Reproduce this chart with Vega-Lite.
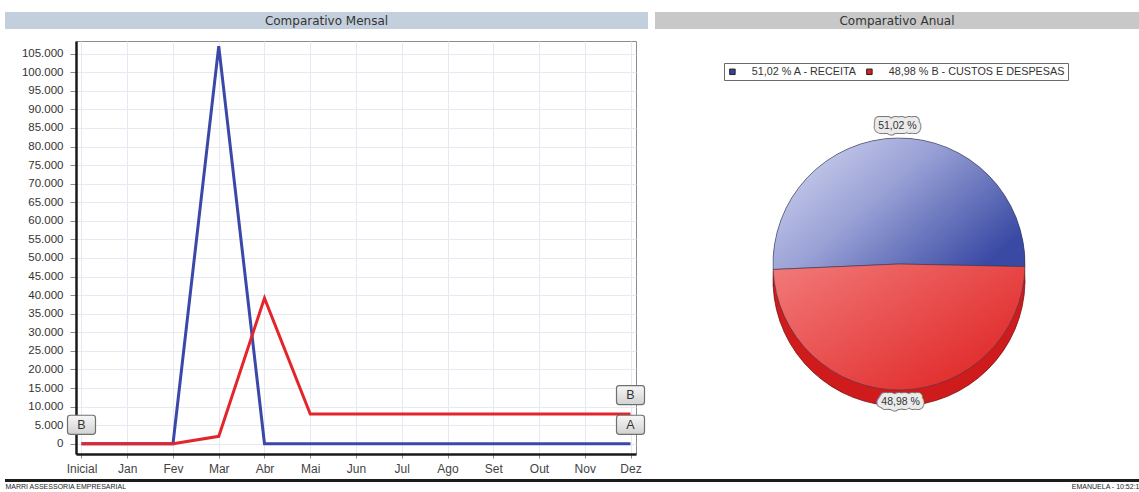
{
  "$schema": "https://vega.github.io/schema/vega-lite/v6.json",
  "padding": {"left": 5, "top": 12, "right": 0, "bottom": 0},
  "background": "#ffffff",
  "config": {
    "locale": {"number": {"decimal": ",", "thousands": ".", "grouping": [3], "currency": ["R$", ""]}},
    "font": "Liberation Sans",
    "view": {"stroke": null}
  },
  "spacing": 10,
  "resolve": {"scale": {"color": "independent"}, "legend": {"color": "independent"}},
  "vconcat": [
    {
      "spacing": 7,
      "hconcat": [
        {
          "width": 643,
          "height": 17,
          "view": {"fill": "#c4cfde", "stroke": null},
          "data": {"values": [{"t": "Comparativo Mensal"}]},
          "mark": {"type": "text", "font": "DejaVu Sans", "fontSize": 12, "color": "#333333", "baseline": "middle"},
          "encoding": {"text": {"field": "t"}}
        },
        {
          "width": 484,
          "height": 17,
          "view": {"fill": "#c8c8c9", "stroke": null},
          "data": {"values": [{"t": "Comparativo Anual"}]},
          "mark": {"type": "text", "font": "DejaVu Sans", "fontSize": 12, "color": "#333333", "baseline": "middle"},
          "encoding": {"text": {"field": "t"}}
        }
      ]
    },
    {
      "spacing": 4,
      "resolve": {"scale": {"color": "independent"}, "legend": {"color": "independent"}},
      "vconcat": [
        {
          "spacing": 54,
          "resolve": {"scale": {"color": "independent"}, "legend": {"color": "independent"}},
          "hconcat": [
            {
              "spacing": 1,
              "hconcat": [
                {
                  "width": 1,
                  "height": 413,
                  "view": {"stroke": null},
                  "data": {"values": [{"value": 0}]},
                  "mark": {"type": "point", "opacity": 0, "size": 0},
                  "encoding": {
                    "y": {
                      "field": "value", "type": "quantitative",
                      "scale": {"domain": [-2750, 108400], "nice": false, "zero": false},
                      "axis": {
                        "orient": "right",
                        "values": [0, 5000, 10000, 15000, 20000, 25000, 30000, 35000, 40000, 45000, 50000, 55000, 60000, 65000, 70000, 75000, 80000, 85000, 90000, 95000, 100000, 105000],
                        "format": ",d", "title": null,
                        "labelAlign": "right", "labelPadding": 57,
                        "labelFontSize": 11.5, "labelColor": "#333333",
                        "ticks": false, "domain": false, "grid": false
                      }
                    }
                  }
                },
                {
                  "width": 560,
                  "height": 413,
                  "view": {"stroke": "#8c8c8c", "strokeWidth": 1},
                  "data": {"values": [
                    {"month": "Inicial", "series": "A", "value": 0},
                    {"month": "Jan", "series": "A", "value": 0},
                    {"month": "Fev", "series": "A", "value": 0},
                    {"month": "Mar", "series": "A", "value": 107000},
                    {"month": "Abr", "series": "A", "value": 0},
                    {"month": "Mai", "series": "A", "value": 0},
                    {"month": "Jun", "series": "A", "value": 0},
                    {"month": "Jul", "series": "A", "value": 0},
                    {"month": "Ago", "series": "A", "value": 0},
                    {"month": "Set", "series": "A", "value": 0},
                    {"month": "Out", "series": "A", "value": 0},
                    {"month": "Nov", "series": "A", "value": 0},
                    {"month": "Dez", "series": "A", "value": 0},
                    {"month": "Inicial", "series": "B", "value": 0},
                    {"month": "Jan", "series": "B", "value": 0},
                    {"month": "Fev", "series": "B", "value": 0},
                    {"month": "Mar", "series": "B", "value": 2000},
                    {"month": "Abr", "series": "B", "value": 39200},
                    {"month": "Mai", "series": "B", "value": 8000},
                    {"month": "Jun", "series": "B", "value": 8000},
                    {"month": "Jul", "series": "B", "value": 8000},
                    {"month": "Ago", "series": "B", "value": 8000},
                    {"month": "Set", "series": "B", "value": 8000},
                    {"month": "Out", "series": "B", "value": 8000},
                    {"month": "Nov", "series": "B", "value": 8000},
                    {"month": "Dez", "series": "B", "value": 8000}
                  ]},
                  "encoding": {
                    "x": {
                      "field": "month", "type": "ordinal",
                      "sort": ["Inicial", "Jan", "Fev", "Mar", "Abr", "Mai", "Jun", "Jul", "Ago", "Set", "Out", "Nov", "Dez"],
                      "scale": {"type": "point", "padding": 0.12},
                      "axis": {
                        "title": null, "labelAngle": 0, "labelFontSize": 12, "labelColor": "#444444",
                        "labelPadding": 5, "tickSize": 4, "tickColor": "#8a8a8a",
                        "domainColor": "#1a1a1a", "domainWidth": 2.5,
                        "grid": true, "gridColor": "#e6e9f1", "gridWidth": 1
                      }
                    },
                    "y": {
                      "field": "value", "type": "quantitative",
                      "scale": {"domain": [-2750, 108400], "nice": false, "zero": false},
                      "axis": {
                        "values": [0, 5000, 10000, 15000, 20000, 25000, 30000, 35000, 40000, 45000, 50000, 55000, 60000, 65000, 70000, 75000, 80000, 85000, 90000, 95000, 100000, 105000],
                        "title": null, "labels": false,
                        "tickSize": 6, "tickColor": "#8a8a8a",
                        "domainColor": "#1a1a1a", "domainWidth": 2.5,
                        "grid": true, "gridColor": "#e6e9f1", "gridWidth": 1
                      }
                    }
                  },
                  "layer": [
                    {
                      "mark": {"type": "line", "strokeWidth": 3},
                      "encoding": {
                        "color": {"field": "series", "type": "nominal", "scale": {"domain": ["A", "B"], "range": ["#3a48a8", "#e2262b"]}, "legend": null}
                      }
                    },
                    {
                      "transform": [{"filter": "datum.month == 'Dez' || (datum.month == 'Inicial' && datum.series == 'B')"}],
                      "mark": {
                        "type": "point",
                        "shape": "M -0.8 -0.68 L 0.8 -0.68 Q 1 -0.68 1 -0.48 L 1 0.48 Q 1 0.68 0.8 0.68 L -0.8 0.68 Q -1 0.68 -1 0.48 L -1 -0.48 Q -1 -0.68 -0.8 -0.68 Z",
                        "size": 784, "filled": true, "opacity": 1,
                        "fill": {"gradient": "linear", "x1": 0, "y1": 0, "x2": 0, "y2": 1, "stops": [{"offset": 0, "color": "#f7f7f7"}, {"offset": 1, "color": "#d2d2d2"}]},
                        "stroke": "#707070", "strokeWidth": 1.2, "yOffset": -19
                      }
                    },
                    {
                      "transform": [{"filter": "datum.month == 'Dez' || (datum.month == 'Inicial' && datum.series == 'B')"}],
                      "mark": {"type": "text", "fontSize": 12.5, "color": "#333333", "baseline": "middle", "yOffset": -19},
                      "encoding": {"text": {"field": "series"}}
                    }
                  ]
                }
              ]
            },
            {
              "width": 394,
              "height": 430,
              "view": {"stroke": null},
              "data": {"values": [
                {"cat": "51,02 % A - RECEITA", "pct": 51.02, "lbl": "51,02 %"},
                {"cat": "48,98 % B - CUSTOS E DESPESAS", "pct": 48.98, "lbl": "48,98 %"}
              ]},
              "encoding": {
                "theta": {"field": "pct", "type": "quantitative", "stack": true, "scale": {"range": [-1.6144, 4.6688]}},
                "order": {"field": "pct", "sort": "descending"}
              },
              "layer": [
                {
                  "mark": {"type": "arc", "radius": 126, "yOffset": 24, "stroke": "#7a1010", "strokeWidth": 0.8},
                  "encoding": {"color": {"value": "#cf1b1b"}}
                },
                {
                  "mark": {"type": "arc", "radius": 126, "yOffset": 8},
                  "encoding": {
                    "color": {
                      "field": "cat", "type": "nominal",
                      "scale": {"domain": ["51,02 % A - RECEITA", "48,98 % B - CUSTOS E DESPESAS"], "range": ["#33449e", "#d91f1f"]},
                      "legend": {
                        "orient": "top-left", "offset": 22, "direction": "horizontal", "title": null,
                        "symbolType": "square", "symbolSize": 30, "symbolStrokeColor": "#222222", "symbolStrokeWidth": 1,
                        "labelFontSize": 10.8, "labelColor": "#333333", "labelOffset": 14, "columnPadding": 6,
                        "labelLimit": 400,
                        "padding": 3, "strokeColor": "#6a6a6a", "fillColor": "#ffffff"
                      }
                    }
                  }
                },
                {
                  "mark": {"type": "arc", "radius": 126, "yOffset": 8, "stroke": "#3a3a50", "strokeWidth": 0.6},
                  "encoding": {
                    "color": {
                      "condition": {
                        "test": "datum.pct > 50",
                        "value": {"gradient": "linear", "x1": 0, "y1": 0.1, "x2": 1, "y2": 0.7, "stops": [{"offset": 0, "color": "#d4d6f0"}, {"offset": 0.45, "color": "#9aa2d6"}, {"offset": 1, "color": "#3a4aa4"}]}
                      },
                      "value": {"gradient": "linear", "x1": 0, "y1": 0, "x2": 1, "y2": 0.8, "stops": [{"offset": 0, "color": "#f27a7a"}, {"offset": 1, "color": "#e02626"}]}
                    }
                  }
                },
                {
                  "mark": {"type": "text", "radius": 138, "fontSize": 10.5, "yOffset": 8, "stroke": "#7a7a7a", "strokeWidth": 10, "strokeJoin": "round"},
                  "encoding": {"text": {"field": "lbl"}, "color": {"value": "#7a7a7a"}}
                },
                {
                  "mark": {"type": "text", "radius": 138, "fontSize": 10.5, "yOffset": 8, "stroke": "#ebebeb", "strokeWidth": 8, "strokeJoin": "round"},
                  "encoding": {"text": {"field": "lbl"}, "color": {"value": "#ebebeb"}}
                },
                {
                  "mark": {"type": "text", "radius": 138, "fontSize": 10.5, "yOffset": 8},
                  "encoding": {"text": {"field": "lbl"}, "color": {"value": "#333333"}}
                }
              ]
            }
          ]
        },
        {
          "width": 1134,
          "height": 3,
          "view": {"fill": "#1c1c1c", "stroke": null},
          "data": {"values": [{"t": "MARRI ASSESSORIA EMPRESARIAL"}, {"t": "EMANUELA - 10:52:1"}]},
          "mark": {"type": "point", "opacity": 0, "size": 0},
          "encoding": {
            "x": {
              "field": "t", "type": "nominal", "sort": null,
              "scale": {"type": "point", "padding": 0},
              "axis": {
                "title": null, "domain": false, "ticks": false, "grid": false, "labelAngle": 0,
                "labelPadding": 0, "labelFontSize": 7, "labelColor": "#222222",
                "labelAlign": {"condition": {"test": "datum.value == 'MARRI ASSESSORIA EMPRESARIAL'", "value": "left"}, "value": "right"}
              }
            }
          }
        }
      ]
    }
  ]
}
